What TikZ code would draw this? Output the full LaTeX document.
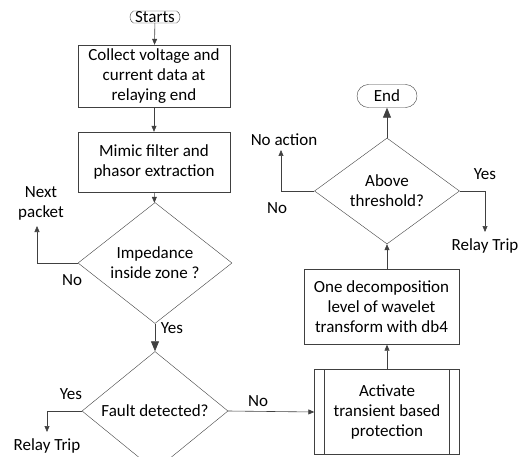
\documentclass[tikz,border=0pt]{standalone}
\usepackage{fontspec}
\setmainfont{Carlito}
\usetikzlibrary{shapes,arrows.meta,positioning,calc}
\definecolor{linegray}{HTML}{404040}
\tikzset{
  post/.style     = {-{Triangle[length=6pt,width=5pt]}, draw=linegray, semithick},
  bigpost/.style  = {-{Triangle[length=10pt,width=8pt]}, draw=linegray, thick},
  terminal/.style = {draw=linegray, rounded rectangle, inner sep=0pt},
  block/.style    = {draw=linegray, rectangle, align=center, inner sep=0pt},
  decision/.style = {draw=linegray, diamond, align=center, inner sep=0pt},
  lbl/.style      = {align=center, inner sep=0pt}
}

\begin{document}
\begin{tikzpicture}[x=1pt, y=-1pt, every node/.style={font=\fontsize{17}{20}\selectfont}]
  \useasboundingbox (0,0) rectangle (524,457);
  % main column
  \node[terminal, minimum width=50pt, minimum height=12pt, rounded rectangle arc length=120] (start) at (155,17) {Starts};
  \node[block, minimum width=152pt, minimum height=62pt] (collect) at (154,76)
    {Collect voltage and\\current data at\\relaying end};
  \node[block, minimum width=152pt, minimum height=60pt] (mimic) at (154,162)
    {Mimic filter and\\phasor extraction};
  \node[decision, minimum width=154pt, minimum height=96pt] (zone) at (155,263)
    {Impedance\\inside zone ?};
  \node[decision, minimum width=146pt, minimum height=88pt] (fault) at (155,411)
    {Fault detected?};
  % right column
  \node[block, minimum width=145pt, minimum height=85pt] (activate) at (387,412)
    {Activate\\transient based\\protection};
  \draw[linegray, semithick] ([xshift=10pt]activate.north west) -- ([xshift=10pt]activate.south west)
    ([xshift=-10pt]activate.north east) -- ([xshift=-10pt]activate.south east);
  \node[block, minimum width=155pt, minimum height=75pt] (wavelet) at (381.5,307)
    {One decomposition\\level of wavelet\\transform with db4};
  \node[decision, minimum width=145pt, minimum height=88pt] (thresh) at (387,191)
    {Above\\threshold?};
  \node[terminal, minimum width=60pt, minimum height=23pt] (end) at (387,96) {End};

  % free ends
  \coordinate (nextpk) at (37,226);
  \coordinate (tripa) at (47,432);
  \coordinate (noact) at (281,150);
  \coordinate (tripb) at (485,232);

  % connectors
  \draw[post] (start) -- (collect);
  \draw[post] (collect) -- (mimic);
  \draw[post] (mimic) -- (zone);
  \draw[post] (zone.west) -| (nextpk);
  \draw[bigpost] (zone.south) -- (fault.north);
  \draw[post] (fault.west) -| (tripa);
  \draw[post] (fault.east) -- (activate.west);
  \draw[post] (activate.north) -- (activate.north |- wavelet.south);
  \draw[post] (activate.north |- wavelet.north) -- (thresh.south);
  \draw[post] (thresh.west) -| (noact);
  \draw[post] (thresh.east) -| (tripb);
  \draw[bigpost] (thresh.north) -- (end.south);

  % labels
  \node[lbl] (lnext) at (41,203) {Next\\packet};
  \node[lbl] (lno1) at (72,280) {No};
  \node[lbl] (lyes1) at (172,328) {Yes};
  \node[lbl] (lyes2) at (71,394) {Yes};
  \node[lbl] (ltrip1) at (47,446) {Relay Trip};
  \node[lbl] (lno2) at (258,401) {No};
  \node[lbl] (lnoact) at (284,140) {No action};
  \node[lbl] (lno3) at (277,208) {No};
  \node[lbl] (lyes3) at (485,174) {Yes};
  \node[lbl] (ltrip2) at (485,246) {Relay Trip};
\end{tikzpicture}
\end{document}
